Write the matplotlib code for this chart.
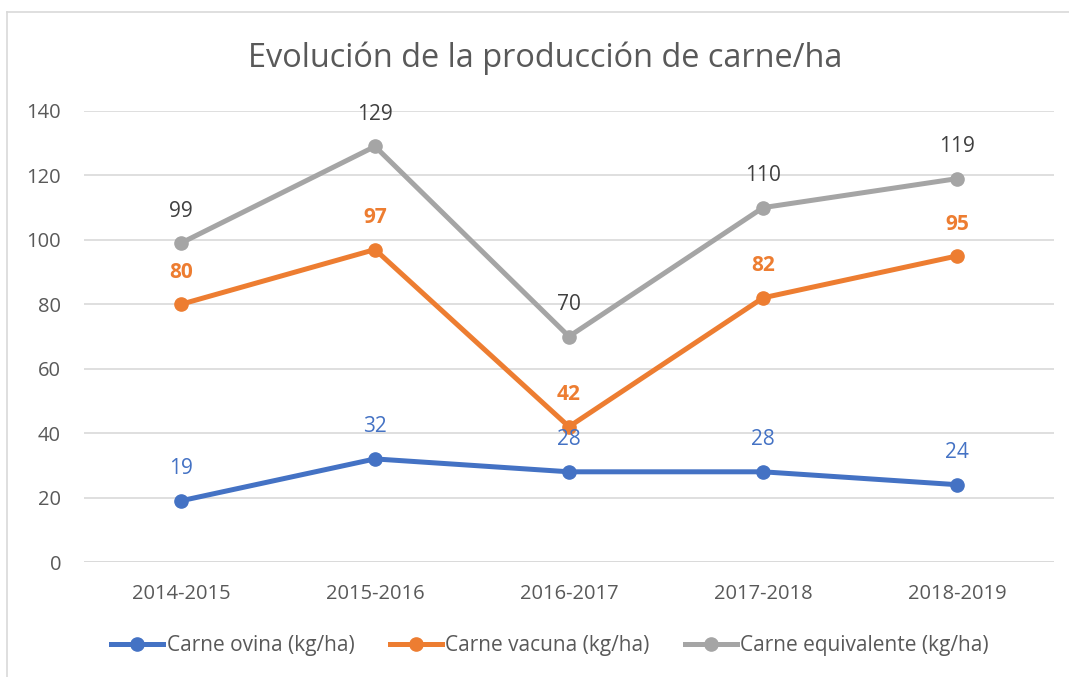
import matplotlib.pyplot as plt
from matplotlib.lines import Line2D

# ---------------- data ----------------
periods = ["2014-2015", "2015-2016", "2016-2017", "2017-2018", "2018-2019"]
ovina = [19, 32, 28, 28, 24]
vacuna = [80, 97, 42, 82, 95]
equivalente = [99, 129, 70, 110, 119]
series_names = ["Carne ovina (kg/ha)", "Carne vacuna (kg/ha)", "Carne equivalente (kg/ha)"]
title = "Evolución de la producción de carne/ha"

plt.rcParams['font.family'] = ['Open Sans', 'DejaVu Sans']

BLUE = "#4472C4"
ORANGE = "#ED7D31"
GRAY = "#A5A5A5"
TXT = "#595959"

fig = plt.figure(figsize=(10.69, 6.77), dpi=100)
ax = fig.add_axes([84 / 1069, 1 - 562 / 677, 970 / 1069, 451 / 677])

x = list(range(len(periods)))
styles = [
    (ovina, BLUE, BLUE, "normal"),
    (vacuna, ORANGE, ORANGE, "bold"),
    (equivalente, GRAY, "#404040", "normal"),
]
for vals, col, lcol, weight in styles:
    ax.plot(x, vals, color=col, lw=3.6, marker="o", ms=9.5, clip_on=False,
            solid_capstyle="round", zorder=3)
    for xi, v in zip(x, vals):
        ax.annotate(str(v), (xi, v), xytext=(0, 23), textcoords="offset points",
                    ha="center", va="center", fontsize=15, color=lcol,
                    fontweight=weight, zorder=4)

ax.set_xlim(-0.5, len(periods) - 0.5)
ax.set_ylim(0, 140)
ax.set_yticks(range(0, 141, 20))
ax.set_xticks(x)
ax.set_xticklabels(periods)
ax.tick_params(length=0, labelsize=14.5, labelcolor=TXT)
ax.tick_params(axis="y", pad=16.5)
ax.tick_params(axis="x", pad=16)
ax.grid(axis="y", color="#D9D9D9", lw=1.2)
ax.set_axisbelow(True)
for s in ax.spines.values():
    s.set_visible(False)
ax.axhline(0, color="#D9D9D9", lw=1.2, zorder=1)

fig.text(545 / 1069, 1 - 58 / 677, title, ha="center", va="center",
         fontsize=23.4, color=TXT)

handles = [Line2D([], [], color=c, lw=3.6, marker="o", ms=9.5)
           for c in (BLUE, ORANGE, GRAY)]
fig.legend(handles, series_names, loc="center", bbox_to_anchor=(550 / 1069, 1 - 646 / 677),
           ncol=3, frameon=False, fontsize=15, handlelength=2.5, handletextpad=0.15,
           columnspacing=1.7, labelcolor=TXT)

# chart frame
fig.add_artist(Line2D([7 / 1069, 1], [1 - 12 / 677, 1 - 12 / 677], color="#D9D9D9", lw=1.2))
fig.add_artist(Line2D([7 / 1069, 7 / 1069], [0, 1 - 12 / 677], color="#D9D9D9", lw=1.2))

fig.savefig("out.png", dpi=100, facecolor="white")
